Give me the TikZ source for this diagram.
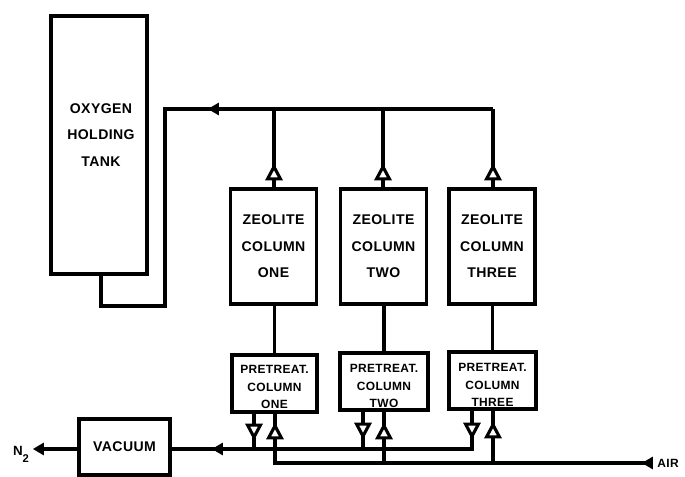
\documentclass[tikz,border=0pt]{standalone}
\usepackage{fontspec}
\setmainfont[LetterSpace=3]{Liberation Sans}
\usetikzlibrary{shapes.geometric,backgrounds}
\tikzset{
	pipe/.style={line width=2.2pt},
	vessel/.style={draw, line width=2.5pt, inner sep=0pt, align=center, font=\bfseries\fontsize{10}{18.8}\selectfont},
	smalllabel/.style={inner sep=0pt, align=center, font=\bfseries\fontsize{8.5}{12.4}\selectfont},
	valve/.style={isosceles triangle, isosceles triangle stretches, draw, line width=2.2pt, fill=white, inner sep=0pt, outer sep=0pt, minimum width=0.32cm, minimum height=0.3cm},
	flowtip/.style={isosceles triangle, isosceles triangle stretches, fill=black, inner sep=0pt, outer sep=0pt, minimum width=0.32cm, minimum height=0.27cm, shape border rotate=180, anchor=apex}
}

\begin{document}
\begin{tikzpicture}[x=0.025cm, y=-0.025cm]
			%%%%% START %%%%%
			\useasboundingbox (0, 0) rectangle (685, 477);
			
			\node[vessel, minimum width=2.4cm, minimum height=6.45cm] (tank) at (99, 145) {};
			\node[vessel, draw=none] (tanklabel) at (101, 135) {OXYGEN\\HOLDING\\TANK};
			
			\node[vessel, minimum width=2.15cm, minimum height=2.88cm] (zeoone) at (273.5, 246.5) {ZEOLITE\\COLUMN\\ONE};
			\node[vessel, minimum width=2.15cm, minimum height=2.88cm] (zeotwo) at (383.5, 246.5) {ZEOLITE\\COLUMN\\TWO};
			\node[vessel, minimum width=2.15cm, minimum height=2.88cm] (zeothree) at (492, 246.5) {ZEOLITE\\COLUMN\\THREE};
			
			\node[vessel, minimum width=2.13cm, minimum height=1.42cm] (preone) at (274.5, 383.5) {};
			\node[vessel, minimum width=2.2cm, minimum height=1.42cm] (pretwo) at (384, 381.5) {};
			\node[vessel, minimum width=2.17cm, minimum height=1.42cm] (prethree) at (492.5, 380.5) {};
			\node[smalllabel] (prelabelone) at (274.5, 387) {PRETREAT.\\COLUMN\\ONE};
			\node[smalllabel] (prelabeltwo) at (384, 386) {PRETREAT.\\COLUMN\\TWO};
			\node[smalllabel] (prelabelthree) at (492.5, 385) {PRETREAT.\\COLUMN\\THREE};
			
			\node[vessel, minimum width=2.28cm, minimum height=1.4cm] (vacuum) at (124.5, 447) {VACUUM};
			
			\node[valve, shape border rotate=90] (topvalveone) at (274, 175) {};
			\node[valve, shape border rotate=90] (topvalvetwo) at (383, 175) {};
			\node[valve, shape border rotate=90] (topvalvethree) at (493, 175) {};
			
			\node[valve, shape border rotate=270] (outvalveone) at (254, 429) {};
			\node[valve, shape border rotate=90] (invalveone) at (275, 434) {};
			\node[valve, shape border rotate=270] (outvalvetwo) at (363, 428) {};
			\node[valve, shape border rotate=90] (invalvetwo) at (384, 434) {};
			\node[valve, shape border rotate=270] (outvalvethree) at (472, 428) {};
			\node[valve, shape border rotate=90] (invalvethree) at (493, 433) {};
			
			\node[flowtip] (oxytip) at (208, 109) {};
			\node[flowtip] (vactip) at (212, 449) {};
			\node[flowtip] (nitrotip) at (33, 449) {};
			\node[flowtip] (airtip) at (642, 463) {};
			
			\node[inner sep=0pt, font=\bfseries\fontsize{9.5}{11}\selectfont] (nitrolabel) at (21, 454) {N\raisebox{-5pt}{\fontsize{8}{9}\selectfont 2}};
			\node[inner sep=0pt, font=\bfseries\fontsize{8.5}{9}\selectfont] (airlabel) at (668, 463) {AIR};
			
			\coordinate (topleft) at (165, 109);
			\coordinate (topright) at (493, 109);
			\coordinate (tankdrop) at (101, 306);
			\coordinate (topdrop) at (165, 306);
			\coordinate (flowend) at (472, 449);
			\coordinate (airend) at (275, 463);
			
			\begin{pgfonlayer}{background}
			\draw[pipe] (tank.south -| tankdrop) -- (tankdrop) -- (topdrop) -- (topleft) -- (oxytip.center) -- (topright);
			\draw[pipe] (topvalveone) -- (topvalveone |- topright);
			\draw[pipe] (topvalvetwo) -- (topvalvetwo |- topright);
			\draw[pipe] (topvalvethree) -- (topright);
			\draw[pipe] (topvalveone) -- (topvalveone |- zeoone.north);
			\draw[pipe] (topvalvetwo) -- (topvalvetwo |- zeotwo.north);
			\draw[pipe] (topvalvethree) -- (topvalvethree |- zeothree.north);
			
			\draw[pipe] (zeoone.south -| preone.north) -- (preone.north);
			\draw[pipe] (zeotwo.south -| pretwo.north) -- (pretwo.north);
			\draw[pipe] (zeothree.south -| prethree.north) -- (prethree.north);
			
			\draw[pipe] (nitrotip.center) -- (vacuum.west |- nitrotip);
			\draw[pipe] (vacuum.east |- vactip) -- (flowend) -- (outvalvethree);
			\draw[pipe] (outvalveone) -- (outvalveone |- flowend);
			\draw[pipe] (outvalvetwo) -- (outvalvetwo |- flowend);
			\draw[pipe] (outvalveone) -- (outvalveone |- preone.south);
			\draw[pipe] (outvalvetwo) -- (outvalvetwo |- pretwo.south);
			\draw[pipe] (outvalvethree) -- (outvalvethree |- prethree.south);
			
			\draw[pipe] (invalveone) -- (airend) -- (airtip.center);
			\draw[pipe] (invalvetwo) -- (invalvetwo |- airend);
			\draw[pipe] (invalvethree) -- (invalvethree |- airend);
			\draw[pipe] (invalveone) -- (invalveone |- preone.south);
			\draw[pipe] (invalvetwo) -- (invalvetwo |- pretwo.south);
			\draw[pipe] (invalvethree) -- (invalvethree |- prethree.south);
			\end{pgfonlayer}
			
			%%%%% END %%%%%
		\end{tikzpicture}
\end{document}
